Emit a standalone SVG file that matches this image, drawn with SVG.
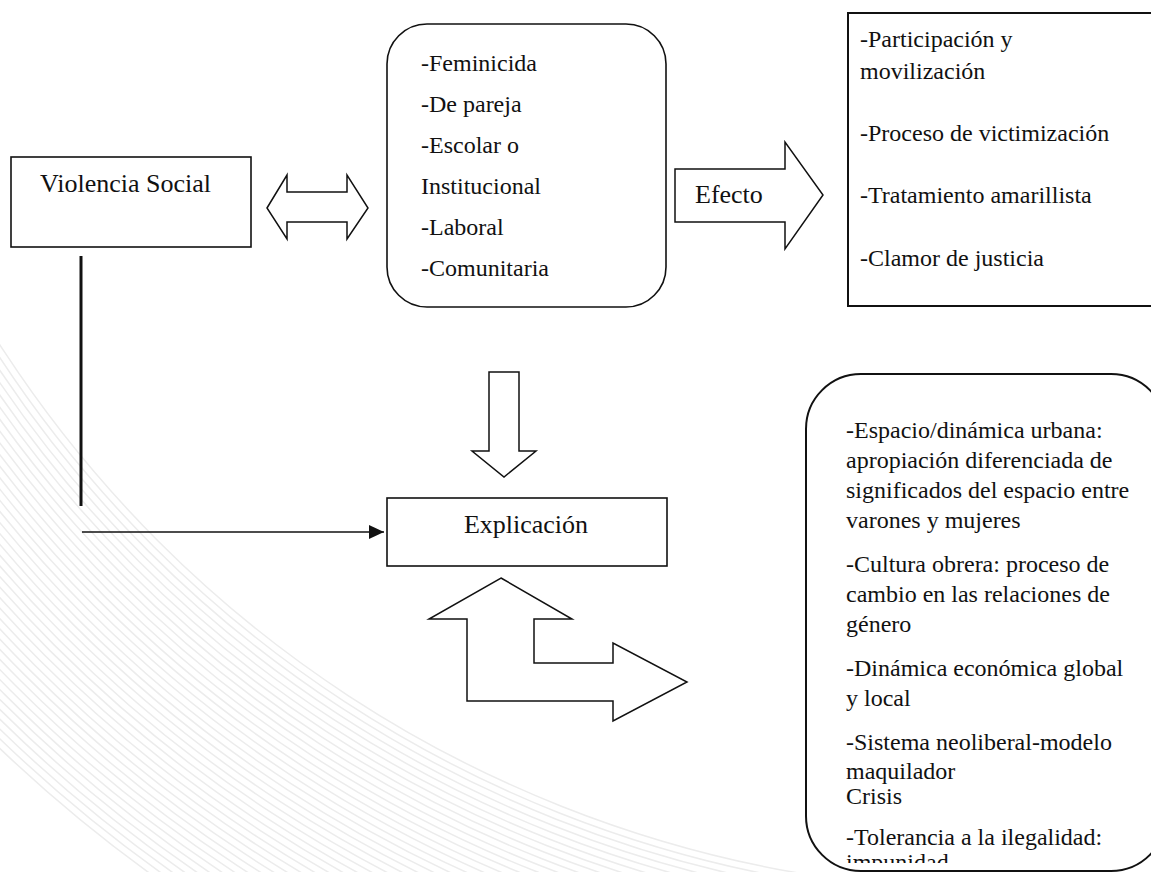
<svg xmlns="http://www.w3.org/2000/svg" width="1151" height="872" viewBox="0 0 1151 872">
<style>
.box{fill:#fff;stroke:#111;stroke-width:1.6}
.shape{fill:#fff;stroke:#111;stroke-width:1.5;stroke-linejoin:miter}
.t{font-family:"Liberation Serif","Times New Roman","DejaVu Serif",serif;fill:#111}
.big{font-size:26px}
.sm{font-size:24px}
.wm{fill:none;stroke:#ececec;stroke-width:1.5}
</style>
<defs>
<marker id="ah" markerWidth="16" markerHeight="14" refX="15" refY="7" orient="auto" markerUnits="userSpaceOnUse">
<path d="M0,0 L15,7 L0,14 Z" fill="#111"/>
</marker>
<clipPath id="clipR"><rect x="806" y="374" width="360" height="489"/></clipPath>
</defs>
<rect width="1151" height="872" fill="#fff"/>
<g id="watermark">
<circle class="wm" cx="1000" cy="-300" r="1190"/>
<circle class="wm" cx="1000" cy="-300" r="1197"/>
<circle class="wm" cx="1000" cy="-300" r="1204"/>
<circle class="wm" cx="1000" cy="-300" r="1211"/>
<circle class="wm" cx="1000" cy="-300" r="1218"/>
<circle class="wm" cx="1000" cy="-300" r="1225"/>
<circle class="wm" cx="1000" cy="-300" r="1232"/>
<circle class="wm" cx="1000" cy="-300" r="1239"/>
<circle class="wm" cx="1000" cy="-300" r="1246"/>
<circle class="wm" cx="1000" cy="-300" r="1253"/>
<circle class="wm" cx="1000" cy="-300" r="1260"/>
<circle class="wm" cx="1000" cy="-300" r="1267"/>
<circle class="wm" cx="1000" cy="-300" r="1274"/>
<circle class="wm" cx="1000" cy="-300" r="1281"/>
<circle class="wm" cx="1000" cy="-300" r="1288"/>
<circle class="wm" cx="1000" cy="-300" r="1295"/>
<circle class="wm" cx="1000" cy="-300" r="1302"/>
<circle class="wm" cx="1000" cy="-300" r="1309"/>
<circle class="wm" cx="1000" cy="-300" r="1316"/>
<circle class="wm" cx="1000" cy="-300" r="1323"/>
<circle class="wm" cx="1000" cy="-300" r="1330"/>
<circle class="wm" cx="1000" cy="-300" r="1337"/>
<circle class="wm" cx="1000" cy="-300" r="1344"/>
<circle class="wm" cx="1000" cy="-300" r="1351"/>
<circle class="wm" cx="1000" cy="-300" r="1358"/>
<circle class="wm" cx="1000" cy="-300" r="1365"/>
<circle class="wm" cx="1000" cy="-300" r="1372"/>
<circle class="wm" cx="1000" cy="-300" r="1379"/>
<circle class="wm" cx="1000" cy="-300" r="1386"/>
<circle class="wm" cx="1000" cy="-300" r="1393"/>
<circle class="wm" cx="1000" cy="-300" r="1400"/>
<circle class="wm" cx="1000" cy="-300" r="1407"/>
<circle class="wm" cx="1000" cy="-300" r="1414"/>
<circle class="wm" cx="1000" cy="-300" r="1421"/>
<circle class="wm" cx="1000" cy="-300" r="1428"/>
<circle class="wm" cx="1000" cy="-300" r="1435"/>
<circle class="wm" cx="1000" cy="-300" r="1442"/>
<circle class="wm" cx="1000" cy="-300" r="1449"/>
</g>
<g id="connectors">
<line x1="81" y1="256" x2="81" y2="506" stroke="#111" stroke-width="3"/>
<line x1="82" y1="532" x2="384" y2="532" stroke="#111" stroke-width="1.6" marker-end="url(#ah)"/>
<path id="double-arrow" class="shape" d="M267,208 L287,175 L287,192 L347,192 L347,175 L368,208 L347,239 L347,222 L287,222 L287,239 Z"/>
<path id="down-arrow" class="shape" d="M489,372 L519,372 L519,451 L536,451 L504,477 L472,451 L489,451 Z"/>
<path id="bent-arrow" class="shape" d="M501,578 L572,619 L534,619 L534,663 L613,663 L613,643 L687,682 L613,721 L613,701 L467,701 L467,619 L429,619 Z"/>
</g>
<g id="violencia-social">
<rect class="box" x="11" y="157" width="240" height="90"/>
<text class="t big" x="40" y="192">Violencia Social</text>
</g>
<g id="tipos">
<rect class="box" x="387" y="24" width="279" height="283" rx="40" ry="40"/>
<text class="t sm" x="421" y="71">-Feminicida</text>
<text class="t sm" x="421" y="112">-De pareja</text>
<text class="t sm" x="421" y="153">-Escolar o</text>
<text class="t sm" x="421" y="194">Institucional</text>
<text class="t sm" x="421" y="235">-Laboral</text>
<text class="t sm" x="421" y="276">-Comunitaria</text>
</g>
<g id="efecto">
<path class="shape" d="M675,169 L785,169 L785,142 L823,195 L785,249 L785,222 L675,222 Z"/>
<text class="t big" x="695" y="203">Efecto</text>
</g>
<g id="efectos-lista">
<rect class="box" x="848" y="13" width="320" height="293" style="stroke-width:2"/>
<text class="t sm" x="860" y="47">-Participación y</text>
<text class="t sm" x="860" y="79">movilización</text>
<text class="t sm" x="860" y="141">-Proceso de victimización</text>
<text class="t sm" x="860" y="203">-Tratamiento amarillista</text>
<text class="t sm" x="860" y="266">-Clamor de justicia</text>
</g>
<g id="explicacion">
<rect class="box" x="387" y="498" width="280" height="68"/>
<text class="t big" x="526" y="533" text-anchor="middle">Explicación</text>
</g>
<g id="factores">
<rect class="box" x="806" y="374" width="360" height="497" rx="55" ry="55" style="stroke-width:2"/>
<g clip-path="url(#clipR)">
<text class="t sm" x="846" y="438">-Espacio/dinámica urbana:</text>
<text class="t sm" x="846" y="468">apropiación diferenciada de</text>
<text class="t sm" x="846" y="498">significados del espacio entre</text>
<text class="t sm" x="846" y="528">varones y mujeres</text>
<text class="t sm" x="846" y="572">-Cultura obrera: proceso de</text>
<text class="t sm" x="846" y="602">cambio en las relaciones de</text>
<text class="t sm" x="846" y="632">género</text>
<text class="t sm" x="846" y="676">-Dinámica económica global</text>
<text class="t sm" x="846" y="706">y local</text>
<text class="t sm" x="846" y="750">-Sistema neoliberal-modelo</text>
<text class="t sm" x="846" y="779">maquilador</text>
<text class="t sm" x="846" y="804">Crisis</text>
<text class="t sm" x="846" y="845">-Tolerancia a la ilegalidad:</text>
<text class="t sm" x="846" y="870">impunidad</text>
</g>
</g>
</svg>
